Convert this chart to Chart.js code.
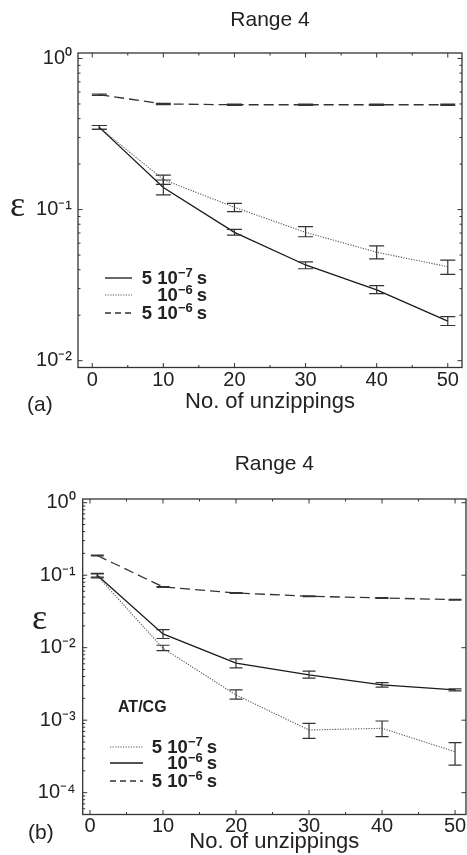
<!DOCTYPE html>
<html><head><meta charset="utf-8">
<script src="https://cdn.jsdelivr.net/npm/chart.js@4.4.1/dist/chart.umd.min.js"></script>
<style>
html,body{margin:0;padding:0;background:#fff;}
body{width:467px;height:855px;position:relative;overflow:hidden;font-family:"Liberation Sans",Arial,sans-serif;color:#222;}
canvas{position:absolute;left:0;}
#c1{top:0;}
#c2{top:420px;}
.lbl{position:absolute;white-space:nowrap;line-height:1;}
.eps{font-family:"Liberation Serif","DejaVu Serif",serif;font-size:36px;line-height:36px;height:36px;}
.panel{font-size:21px;line-height:22px;}
.leg{position:absolute;}
.row{position:absolute;left:0;height:20px;}
.row svg{position:absolute;left:0;top:8px;}
.row .t{position:absolute;right:0;top:0;line-height:20px;font-weight:bold;font-size:18.5px;white-space:nowrap;}
.row .t sup{font-size:13px;vertical-align:baseline;position:relative;top:-7px;margin-right:4px;}
.atcg{font-weight:bold;font-size:16px;}
</style>
</head><body>
<canvas id="c1" width="467" height="420" style="width:467px;height:420px"></canvas>
<canvas id="c2" width="467" height="435" style="width:467px;height:435px"></canvas>

<div class="lbl eps" style="left:10px;top:186px;">ε</div>
<div class="lbl eps" style="left:32px;top:599px;">ε</div>
<div class="lbl panel" style="left:27px;top:393px;">(a)</div>
<div class="lbl panel" style="left:28px;top:821px;">(b)</div>
<div class="lbl atcg" style="left:118px;top:699px;">AT/CG</div>

<div class="leg" style="left:105px;top:0;width:102px;">
  <div class="row" style="top:267.7px;width:102px;"><svg width="28" height="4"><line x1="0" y1="2" x2="27" y2="2" stroke="#1a1a1a" stroke-width="1.3"/></svg><span class="t">5 10<sup>−7</sup>s</span></div>
  <div class="row" style="top:285px;width:102px;"><svg width="28" height="4"><line x1="0" y1="2" x2="27" y2="2" stroke="#555" stroke-width="1.1" stroke-dasharray="1.2,1.4"/></svg><span class="t">10<sup>−6</sup>s</span></div>
  <div class="row" style="top:303px;width:102px;"><svg width="28" height="4"><line x1="0" y1="2" x2="27" y2="2" stroke="#333" stroke-width="1.3" stroke-dasharray="6,4"/></svg><span class="t">5 10<sup>−6</sup>s</span></div>
</div>
<div class="leg" style="left:110px;top:0;width:107px;">
  <div class="row" style="top:737.3px;width:107px;"><svg width="34" height="4"><line x1="0" y1="2" x2="33" y2="2" stroke="#555" stroke-width="1.1" stroke-dasharray="1.2,1.4"/></svg><span class="t">5 10<sup>−7</sup>s</span></div>
  <div class="row" style="top:753.3px;width:107px;"><svg width="34" height="4"><line x1="0" y1="2" x2="33" y2="2" stroke="#1a1a1a" stroke-width="1.3"/></svg><span class="t">10<sup>−6</sup>s</span></div>
  <div class="row" style="top:770.7px;width:107px;"><svg width="34" height="4"><line x1="0" y1="2" x2="33" y2="2" stroke="#333" stroke-width="1.3" stroke-dasharray="6,4"/></svg><span class="t">5 10<sup>−6</sup>s</span></div>
</div>

<script>
// ---------- data ----------
const unzippings = [1, 10, 20, 30, 40, 50];
const xTickValues = [0, 10, 20, 30, 40, 50];
const xMinorTickValues = [5, 15, 25, 35, 45];

// panel (a)
const aLabels = ['5 10⁻⁷ s', '10⁻⁶ s', '5 10⁻⁶ s'];
const a5e7 = [0.350, 0.140, 0.0707, 0.0430, 0.0294, 0.0183];
const a5e7Lo = [0.340, 0.125, 0.0677, 0.0406, 0.0278, 0.0171];
const a5e7Hi = [0.360, 0.157, 0.0740, 0.0451, 0.0314, 0.0196];
const a1e6 = [0.350, 0.158, 0.1036, 0.0707, 0.0522, 0.0419];
const a1e6Lo = [0.340, 0.147, 0.0969, 0.0661, 0.0472, 0.0373];
const a1e6Hi = [0.360, 0.169, 0.1099, 0.0772, 0.0576, 0.0463];
const a5e6 = [0.576, 0.500, 0.494, 0.494, 0.494, 0.494];
const a5e6Lo = [0.570, 0.495, 0.489, 0.489, 0.489, 0.489];
const a5e6Hi = [0.582, 0.505, 0.499, 0.499, 0.499, 0.499];
const aYTickValues = [1, 0.1, 0.01];
const aYTickLabels = ['10⁰', '10⁻¹', '10⁻²'];

// panel (b)
const b5e7 = [0.098, 0.0098, 0.00223, 0.000732, 0.000773, 0.000367];
const b5e7Lo = [0.092, 0.0091, 0.00195, 0.000562, 0.000592, 0.000240];
const b5e7Hi = [0.104, 0.0108, 0.00262, 0.000905, 0.000975, 0.000489];
const b1e6 = [0.100, 0.0155, 0.00612, 0.00422, 0.00307, 0.00262];
const b1e6Lo = [0.094, 0.0134, 0.00527, 0.00380, 0.00285, 0.00253];
const b1e6Hi = [0.106, 0.0177, 0.00703, 0.00475, 0.00330, 0.00271];
const b5e6 = [0.187, 0.0689, 0.0569, 0.0512, 0.0485, 0.0460];
const b5e6Lo = [0.184, 0.0680, 0.0562, 0.0506, 0.0479, 0.0454];
const b5e6Hi = [0.190, 0.0698, 0.0576, 0.0518, 0.0491, 0.0466];
const bYTickValues = [1, 0.1, 0.01, 0.001, 0.0001];
const bYTickLabels = ['10⁰', '10⁻¹', '10⁻²', '10⁻³', '10⁻⁴'];

const minorMult = [2, 3, 4, 5, 6, 7, 8, 9];

// ---------- styles ----------
const STY = {
  solid: {borderColor: '#1a1a1a', borderWidth: 1.3, borderDash: []},
  dotted: {borderColor: '#555', borderWidth: 1.1, borderDash: [1.2, 1.4]},
  dashed: {borderColor: '#333', borderWidth: 1.3, borderDash: [10, 5]}
};

function mk(label, vals, lo, hi, sty) {
  return Object.assign({
    label: label,
    data: unzippings.map((x, i) => ({x: x, y: vals[i]})),
    errLow: lo, errHigh: hi,
    pointRadius: 0, tension: 0, fill: false
  }, sty);
}

const frame = {
  id: 'frame',
  afterDatasetsDraw(chart, args, o) {
    const {ctx, scales: {x, y}} = chart;
    ctx.save();
    ctx.strokeStyle = '#333';
    ctx.lineWidth = 1.2;
    ctx.setLineDash([]);
    const w = o.capWidth;
    chart.data.datasets.forEach(ds => {
      ds.data.forEach((p, i) => {
        const px = x.getPixelForValue(p.x);
        const yl = y.getPixelForValue(ds.errLow[i]);
        const yh = y.getPixelForValue(ds.errHigh[i]);
        ctx.beginPath();
        ctx.moveTo(px, yl); ctx.lineTo(px, yh);
        ctx.moveTo(px - w / 2, yl); ctx.lineTo(px + w / 2, yl);
        ctx.moveTo(px - w / 2, yh); ctx.lineTo(px + w / 2, yh);
        ctx.stroke();
      });
    });
    ctx.restore();
  },
  afterDraw(chart, args, o) {
    const {ctx, chartArea: a, scales: {x, y}} = chart;
    ctx.save();
    ctx.strokeStyle = '#333';
    ctx.lineWidth = 1;
    ctx.setLineDash([]);
    const MJ = 4.5, MN = 2.5;
    ctx.beginPath();
    xTickValues.forEach(v => {
      const px = x.getPixelForValue(v);
      ctx.moveTo(px, a.bottom); ctx.lineTo(px, a.bottom - MJ);
      ctx.moveTo(px, a.top); ctx.lineTo(px, a.top + MJ);
    });
    xMinorTickValues.forEach(v => {
      const px = x.getPixelForValue(v);
      ctx.moveTo(px, a.bottom); ctx.lineTo(px, a.bottom - MN);
      ctx.moveTo(px, a.top); ctx.lineTo(px, a.top + MN);
    });
    o.yMajor.forEach(v => {
      const py = y.getPixelForValue(v);
      ctx.moveTo(a.left, py); ctx.lineTo(a.left + MJ, py);
      ctx.moveTo(a.right, py); ctx.lineTo(a.right - MJ, py);
    });
    const lo = y.min, hi = y.max;
    o.yMajor.concat([o.yMajor[o.yMajor.length - 1] / 10]).forEach(d => {
      minorMult.forEach(m => {
        const v = d * m;
        if (v <= lo || v >= hi) return;
        const py = y.getPixelForValue(v);
        ctx.moveTo(a.left, py); ctx.lineTo(a.left + MN, py);
        if (o.rightMinor) { ctx.moveTo(a.right, py); ctx.lineTo(a.right - MN, py); }
      });
    });
    ctx.stroke();
    ctx.lineWidth = 1.3;
    ctx.strokeRect(a.left, a.top, a.right - a.left, a.bottom - a.top);
    ctx.restore();
  }
};

Chart.defaults.font.family = '"Liberation Sans", Arial, sans-serif';
Chart.defaults.color = '#222';

function makeChart(id, datasets, cfg) {
  return new Chart(document.getElementById(id), {
    type: 'line',
    data: {datasets: datasets},
    plugins: [frame],
    options: {
      responsive: false, animation: false, devicePixelRatio: 1,
      layout: {padding: {left: 0, right: cfg.padRight, top: 0, bottom: 0}},
      plugins: {
        legend: {display: false}, tooltip: {enabled: false},
        title: {display: true, text: 'Range 4', fullSize: false, color: '#222',
          font: {size: 21, weight: 'normal'}, padding: {top: cfg.titleTop, bottom: cfg.titleBottom}},
        frame: {capWidth: cfg.capWidth, yMajor: cfg.yTicks, rightMinor: cfg.rightMinor}
      },
      scales: {
        x: {
          type: 'linear', min: cfg.xMin, max: cfg.xMax,
          grid: {display: false, drawTicks: false}, border: {display: false},
          afterBuildTicks: s => { s.ticks = xTickValues.map(v => ({value: v})); },
          ticks: {font: {size: 20}, color: '#222', padding: cfg.xTickPad, maxRotation: 0, autoSkip: false},
          title: {display: true, text: 'No. of unzippings', color: '#222', font: {size: 22}, padding: {top: 0, bottom: cfg.xTitlePad}},
          afterFit: s => { s.height = cfg.xHeight; }
        },
        y: {
          type: 'logarithmic', min: cfg.yMin, max: cfg.yMax,
          grid: {display: false, drawTicks: false}, border: {display: false},
          afterBuildTicks: s => { s.ticks = cfg.yTicks.slice().reverse().map(v => ({value: v})); },
          ticks: {font: {size: 20}, color: '#222', padding: cfg.yTickPad, autoSkip: false,
            callback: v => { const i = cfg.yTicks.indexOf(v); return i >= 0 ? cfg.yLabels[i] : ''; }},
          afterFit: s => { s.width = cfg.yWidth; }
        }
      }
    }
  });
}

makeChart('c1', [
  mk(aLabels[0], a5e7, a5e7Lo, a5e7Hi, STY.solid),
  mk(aLabels[1], a1e6, a1e6Lo, a1e6Hi, STY.dotted),
  mk(aLabels[2], a5e6, a5e6Lo, a5e6Hi, STY.dashed)
], {
  padRight: 5, titleTop: 7.7, titleBottom: 20.1, capWidth: 15,
  xMin: -2, xMax: 52, xTickPad: 1, xTitlePad: 4.8, xHeight: 52.5,
  yMin: 0.009016, yMax: 1.087, yTicks: aYTickValues, yLabels: aYTickLabels,
  yTickPad: 6, yWidth: 78, rightMinor: true
});

makeChart('c2', [
  mk(aLabels[0], b5e7, b5e7Lo, b5e7Hi, STY.dotted),
  mk(aLabels[1], b1e6, b1e6Lo, b1e6Hi, STY.solid),
  mk(aLabels[2], b5e6, b5e6Lo, b5e6Hi, STY.dashed)
], {
  padRight: 1, titleTop: 31.9, titleBottom: 21.9, capWidth: 13,
  xMin: -1, xMax: 51.5, xTickPad: 0, xTitlePad: 0, xHeight: 40.5,
  yMin: 0.00005, yMax: 1.125, yTicks: bYTickValues, yLabels: bYTickLabels,
  yTickPad: 7, yWidth: 82.7, rightMinor: false
});
</script>
</body></html>
